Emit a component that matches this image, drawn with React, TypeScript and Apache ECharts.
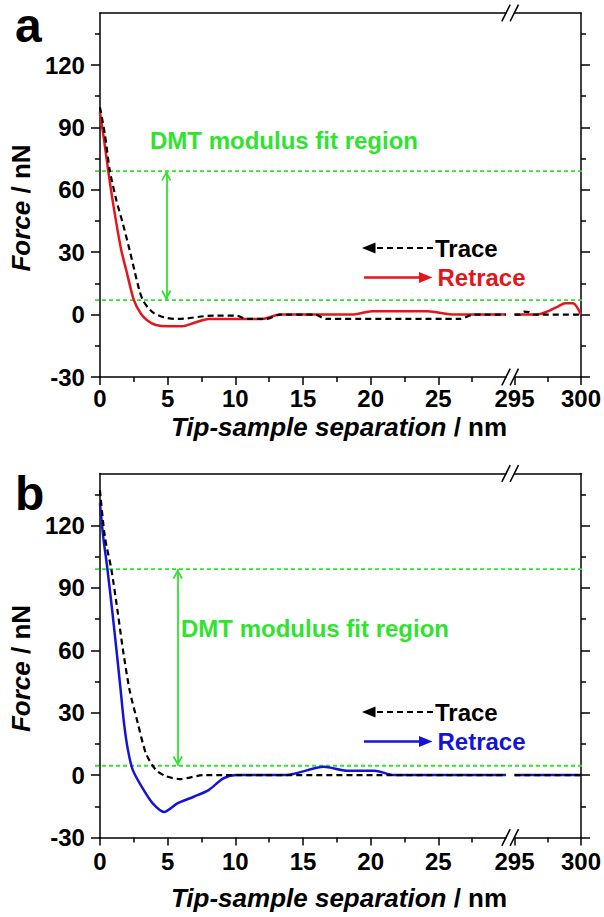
import { useEffect, useRef } from "react";
import * as echarts from "echarts";

// ---- axis ticks and labels ----
const yMajorTicks = [-30, 0, 30, 60, 90, 120];
const yMinorTicks = [-15, 15, 45, 75, 105, 135];
const xNearMajorTicks = [0, 5, 10, 15, 20, 25];
const xNearMinorTicks = [2.5, 7.5, 12.5, 17.5, 22.5, 27.5];
const xFarMajorTicks = [295, 300];
const xFarMinorTicks = [297.5];

const Y_MIN = -30;
const Y_MAX = 145;
const NEAR_MIN = 0;
const NEAR_MAX = 30;
const FAR_MIN = 295;
const FAR_MAX = 300;

// ---- panel a: force curves [separation nm, force nN] ----
const traceANear = [
  [0, 99.7], [0.36, 86.9], [0.73, 69.2], [1.22, 54.8], [1.7, 43.6], [2.2, 30.8],
  [2.55, 21.2], [2.92, 11.5], [3.16, 7.1], [3.53, 3.5], [4.01, 0.6], [4.74, -1.3],
  [5.47, -2.1], [6.44, -1.8], [7.66, -0.8], [8.6, -0.5], [10.1, -0.5], [10.8, -2.1],
  [12.3, -2.1], [13.3, 0], [15.9, 0], [16.7, -2.1], [26.6, -2.1], [27.6, 0], [30, 0],
];
const traceAFar = [
  [295, 0], [295.4, 0], [295.7, 1.4], [296.1, 1.2], [296.4, 0], [300, 0],
];
const retraceANear = [
  [0, 97.3], [0.31, 83.7], [0.61, 69.2], [0.9, 56.4], [1.22, 43.6], [1.58, 30.8],
  [1.95, 21.2], [2.5, 7.1], [3.04, 0.3], [3.53, -2.9], [4.14, -5.0], [5.0, -5.6],
  [6.08, -5.6], [6.93, -4.0], [8.03, -2.1], [12.0, -2.1], [13.3, 0], [18.6, 0],
  [20.1, 1.6], [24.2, 1.6], [26.2, 0], [30, 0],
];
const retraceAFar = [
  [295, 0], [296.7, 0], [297.6, 1.8], [298.3, 4.0], [298.8, 5.4], [299.4, 5.4],
  [299.7, 3.6], [300, 0],
];
const fitRegionA = [69, 7];
const fitArrowXA = 4.9;

// ---- panel b ----
const traceBNear = [
  [0, 137], [0.36, 114.7], [0.85, 98.7], [1.29, 79.4], [1.7, 60.2], [2.19, 40.9],
  [2.8, 24.9], [3.4, 10.4], [4.14, 2.4], [4.87, -0.5], [5.91, -1.9], [7.66, 0],
  [30, 0],
];
const traceBFar = [[295, 0], [300, 0]];
const retraceBNear = [
  [0, 130.8], [0.24, 114.7], [0.56, 98.7], [0.9, 79.4], [1.22, 60.2], [1.53, 40.9],
  [1.78, 24.9], [2.07, 12.0], [2.43, 2.4], [3.16, -6.4], [3.9, -13.6], [4.74, -17.7],
  [5.72, -13.6], [6.93, -10.4], [8.03, -7.2], [9.12, -1.6], [10.1, 0], [13.75, 0],
  [16.55, 4.0], [18.25, 2.1], [20.3, 2.1], [21.7, 0], [30, 0],
];
const retraceBFar = [[295, 0], [300, 0]];
const fitRegionB = [99, 4.5];
const fitArrowXB = 5.75;

const FONT = "'Liberation Sans', Arial, Helvetica, sans-serif";
const GREEN = "#2fe32f";
const RED = "#e4161c";
const BLUE = "#1414d8";
const AXIS_W = 1.5;

// plot frame
const LEFT = 95;
const NEAR_W = 411;
const FAR_LEFT = 514.5;
const FAR_W = 68.5;
const PLOT_H = 364;

const panels = [
  {
    letter: "a", top: 13, color: RED,
    trace: [traceANear, traceAFar], retrace: [retraceANear, retraceAFar],
    fit: fitRegionA, arrowX: fitArrowXA,
    xNameGap: 37, labelMargin: 9,
    letterY: 25, fitLabel: { x: 150, y: 140 }, legendY: 248,
  },
  {
    letter: "b", top: 473.5, color: BLUE,
    trace: [traceBNear, traceBFar], retrace: [retraceBNear, retraceBFar],
    fit: fitRegionB, arrowX: fitArrowXB,
    xNameGap: 47, labelMargin: 12,
    letterY: 493, fitLabel: { x: 181, y: 628 }, legendY: 712,
  },
];

const labelStyle = { color: "#000", fontSize: 24, fontWeight: "bold", fontFamily: FONT };
const lineBlack = { color: "#000", width: AXIS_W };

const CHEVRON = "path://M5,-10 L5,-10 M5,0 L10,9 L8.6,10.2 L5,3.6 L1.4,10.2 L0,9 Z";

function buildOption() {
  const grid: any[] = [];
  const xAxis: any[] = [];
  const yAxis: any[] = [];
  const series: any[] = [];
  const graphic: any[] = [];

  const hidden = { axisLine: { show: false, onZero: false }, axisTick: { show: false }, axisLabel: { show: false }, splitLine: { show: false } };

  panels.forEach((p) => {
    const bottom = p.top + PLOT_H;
    const gNear = grid.length;
    grid.push({ left: LEFT, top: p.top, width: NEAR_W, height: PLOT_H });
    const gFar = grid.length;
    grid.push({ left: FAR_LEFT, top: p.top, width: FAR_W, height: PLOT_H });
    const gAll = grid.length;
    grid.push({ left: LEFT, top: p.top, width: FAR_LEFT + FAR_W - LEFT, height: PLOT_H });

    const xSet = (g: number, min: number, max: number, major: number[], minor: number[]) => {
      const idx = xAxis.length;
      xAxis.push({
        gridIndex: g, type: "value", position: "bottom", min, max,
        axisLine: { show: true, onZero: false, lineStyle: lineBlack },
        axisTick: { show: true, length: 8, customValues: major, lineStyle: lineBlack },
        axisLabel: { show: true, customValues: major, margin: p.labelMargin, ...labelStyle },
        splitLine: { show: false },
      });
      xAxis.push({
        gridIndex: g, type: "value", position: "bottom", min, max,
        axisLine: { show: false, onZero: false },
        axisTick: { show: true, length: 5, customValues: minor, lineStyle: lineBlack },
        axisLabel: { show: false }, splitLine: { show: false },
      });
      xAxis.push({
        gridIndex: g, type: "value", position: "top", min, max,
        axisLine: { show: true, onZero: false, lineStyle: lineBlack },
        axisTick: { show: false }, axisLabel: { show: false }, splitLine: { show: false },
      });
      return idx;
    };
    const xNear = xSet(gNear, NEAR_MIN, NEAR_MAX, xNearMajorTicks, xNearMinorTicks);
    const xFar = xSet(gFar, FAR_MIN, FAR_MAX, xFarMajorTicks, xFarMinorTicks);
    const xAll = xAxis.length;
    xAxis.push({
      gridIndex: gAll, type: "value", position: "bottom", min: 0, max: 1, ...hidden,
      name: "{i|Tip-sample separation} / nm", nameLocation: "middle", nameGap: p.xNameGap,
      nameTextStyle: {
        color: "#000", fontSize: 26, fontWeight: "bold", fontFamily: FONT,
        rich: { i: { fontSize: 26, fontWeight: "bold", fontStyle: "italic", fontFamily: FONT, color: "#000" } },
      },
    });

    const yNear = yAxis.length;
    yAxis.push({
      gridIndex: gNear, type: "value", position: "left", min: Y_MIN, max: Y_MAX,
      axisLine: { show: true, onZero: false, lineStyle: lineBlack },
      axisTick: { show: true, length: 9, customValues: yMajorTicks, lineStyle: lineBlack },
      axisLabel: { show: true, customValues: yMajorTicks, margin: 15, ...labelStyle },
      splitLine: { show: false },
      name: "{i|Force} / nN", nameLocation: "middle", nameGap: 57,
      nameTextStyle: {
        color: "#000", fontSize: 26, fontWeight: "bold", fontFamily: FONT, padding: [0, 26, 0, 0],
        rich: { i: { fontSize: 26, fontWeight: "bold", fontStyle: "italic", fontFamily: FONT, color: "#000" } },
      },
    });
    yAxis.push({
      gridIndex: gNear, type: "value", position: "left", min: Y_MIN, max: Y_MAX,
      axisLine: { show: false, onZero: false },
      axisTick: { show: true, length: 5, customValues: yMinorTicks, lineStyle: lineBlack },
      axisLabel: { show: false }, splitLine: { show: false },
    });
    const yFar = yAxis.length;
    yAxis.push({
      gridIndex: gFar, type: "value", position: "right", min: Y_MIN, max: Y_MAX,
      axisLine: { show: true, onZero: false, lineStyle: lineBlack },
      axisTick: { show: true, length: 9, customValues: yMajorTicks, lineStyle: lineBlack },
      axisLabel: { show: false }, splitLine: { show: false },
    });
    yAxis.push({
      gridIndex: gFar, type: "value", position: "right", min: Y_MIN, max: Y_MAX,
      axisLine: { show: false, onZero: false },
      axisTick: { show: true, length: 5, customValues: yMinorTicks, lineStyle: lineBlack },
      axisLabel: { show: false }, splitLine: { show: false },
    });
    const yAll = yAxis.length;
    yAxis.push({ gridIndex: gAll, type: "value", min: Y_MIN, max: Y_MAX, ...hidden });

    // fit-region bounds, spanning the whole frame
    p.fit.forEach((v) => {
      series.push({
        type: "line", xAxisIndex: xAll, yAxisIndex: yAll, data: [[0, v], [1, v]],
        symbol: "none", silent: true, z: 1,
        lineStyle: { color: GREEN, width: 1.8, type: [4, 3] },
      });
    });

    const segs = [
      { x: xNear, y: yNear },
      { x: xFar, y: yFar },
    ];
    segs.forEach((s, i) => {
      series.push({
        name: "Trace", type: "line", xAxisIndex: s.x, yAxisIndex: s.y, data: p.trace[i],
        symbol: "none", smooth: 0.25, z: 3,
        lineStyle: { color: "#000", width: 2.2, type: [6, 4] },
      });
      series.push({
        name: "Retrace", type: "line", xAxisIndex: s.x, yAxisIndex: s.y, data: p.retrace[i],
        symbol: "none", smooth: 0.25, z: 2,
        lineStyle: { color: p.color, width: 2.5 },
        markLine: i === 0 ? {
          silent: true, symbol: [CHEVRON, CHEVRON], symbolSize: [10, 20],
          lineStyle: { color: GREEN, width: 1.8, type: "solid" }, label: { show: false },
          data: [[{ coord: [p.arrowX, p.fit[0]] }, { coord: [p.arrowX, p.fit[1]] }]],
        } : undefined,
      });
    });

    // break marks on top and bottom frame lines
    [p.top, bottom].forEach((yy) => {
      [506, 514.3].forEach((xx) => {
        graphic.push({
          type: "line", silent: true, z: 100,
          shape: { x1: xx - 4.2, y1: yy + 8.4, x2: xx + 4.2, y2: yy - 8.4 },
          style: { stroke: "#000", lineWidth: 1.5 },
        });
      });
    });

    // panel letter
    graphic.push({
      type: "text", x: 15, y: p.letterY, silent: true,
      style: { text: p.letter, fill: "#000", fontSize: 48, fontWeight: "bold", fontFamily: FONT, verticalAlign: "middle", align: "left" },
    });
    // fit region label
    graphic.push({
      type: "text", x: p.fitLabel.x, y: p.fitLabel.y, silent: true,
      style: { text: "DMT modulus fit region", fill: GREEN, fontSize: 24, fontWeight: "bold", fontFamily: FONT, verticalAlign: "middle", align: "left" },
    });
    // legend rows
    const ly = p.legendY;
    const ry = ly + 29.5;
    graphic.push(
      {
        type: "polygon", silent: true,
        shape: { points: [[362, ly], [375.5, ly - 5.5], [375.5, ly + 5.5]] },
        style: { fill: "#000" },
      },
      {
        type: "line", silent: true,
        shape: { x1: 377, y1: ly, x2: 433, y2: ly },
        style: { stroke: "#000", lineWidth: 2.2, lineDash: [6, 4] },
      },
      {
        type: "text", x: 435, y: ly, silent: true,
        style: { text: "Trace", fill: "#000", fontSize: 24, fontWeight: "bold", fontFamily: FONT, verticalAlign: "middle", align: "left" },
      },
      {
        type: "line", silent: true,
        shape: { x1: 364, y1: ry, x2: 421, y2: ry },
        style: { stroke: p.color, lineWidth: 2.5 },
      },
      {
        type: "polygon", silent: true,
        shape: { points: [[432.5, ry], [419, ry - 5.5], [419, ry + 5.5]] },
        style: { fill: p.color },
      },
      {
        type: "text", x: 437.5, y: ry, silent: true,
        style: { text: "Retrace", fill: p.color, fontSize: 24, fontWeight: "bold", fontFamily: FONT, verticalAlign: "middle", align: "left" },
      },
    );
  });

  return {
    animation: false,
    backgroundColor: "#ffffff",
    grid, xAxis, yAxis, series, graphic,
  };
}

export default function App() {
  const ref = useRef<HTMLDivElement>(null);
  useEffect(() => {
    if (!ref.current) return;
    const chart = echarts.init(ref.current, null, { renderer: "svg" });
    chart.setOption(buildOption() as any);
    return () => chart.dispose();
  }, []);
  return (
    <div
      ref={ref}
      style={{ position: "absolute", left: 0, top: 0, width: 604, height: 917, background: "#fff" }}
    />
  );
}
